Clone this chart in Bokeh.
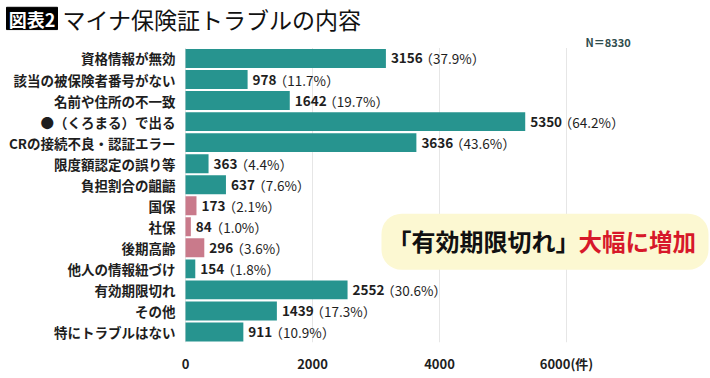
from bokeh.plotting import figure
from bokeh.models import ColumnDataSource, BoxAnnotation, FixedTicker, Range1d, Label
from bokeh.core.properties import value
from bokeh.embed import file_html
from bokeh.resources import INLINE

categories = ["資格情報が無効", "該当の被保険者番号がない", "名前や住所の不一致",
              "●（くろまる）で出る", "CRの接続不良・認証エラー", "限度額認定の誤り等",
              "負担割合の齟齬", "国保", "社保", "後期高齢", "他人の情報紐づけ",
              "有効期限切れ", "その他", "特にトラブルはない"]
counts = [3156, 978, 1642, 5350, 3636, 363, 637, 173, 84, 296, 154, 2552, 1439, 911]
percents = [37.9, 11.7, 19.7, 64.2, 43.6, 4.4, 7.6, 2.1, 1.0, 3.6, 1.8, 30.6, 17.3, 10.9]
pink_categories = ["国保", "社保", "後期高齢"]
x_ticks = [0, 2000, 4000, 6000]
title_tag = "図表2"
title_text = "マイナ保険証トラブルの内容"
n_text = "N＝8330"
note_black = "「有効期限切れ」"
note_red = "大幅に増加"

FONT = "Noto Sans CJK JP"
TEAL = "#27948f"
PINK = "#c97a8b"

n = len(categories)
colors = [PINK if c in pink_categories else TEAL for c in categories]
ypos = [n - 0.5 - i for i in range(n)]
num_txt = [str(v) for v in counts]
pct_txt = ["（%.1f%%）" % p for p in percents]
pct_off = [4 + 7.4 * len(s) for s in num_txt]

src = ColumnDataSource(dict(cat=categories, y=ypos, v=counts, color=colors,
                            num=num_txt, pct=pct_txt, off=pct_off))

# canvas geometry (pixels)
W = 710
PLOT_LEFT = 185          # x of value 0 on the canvas
ROWS_TOP = 49            # top of first row
FRAME_BOTTOM = 353       # bottom of last row
BOTTOM = 22
H = FRAME_BOTTOM + BOTTOM
band = (FRAME_BOTTOM - ROWS_TOP) / n
ppu = 127 / 2000         # pixels per unit on x

def dx(cx):
    return (cx - PLOT_LEFT) / ppu

def dy(cy):
    return (FRAME_BOTTOM - cy) / band

p = figure(width=W, height=H, output_backend="svg", toolbar_location=None,
           x_range=Range1d(dx(0), dx(W)), y_range=Range1d(0, dy(0)),
           min_border_left=0, min_border_right=0, min_border_top=0,
           min_border_bottom=BOTTOM)
p.outline_line_color = None
p.yaxis.visible = False
p.grid.visible = False

# vertical grid lines over the rows only
p.segment(x0=x_ticks, x1=x_ticks, y0=[0] * len(x_ticks), y1=[n] * len(x_ticks),
          line_color="#e6e6e6", line_width=1)

p.hbar(y="y", right="v", left=0, height=0.9, color="color", line_color=None, source=src)

# category labels
p.text(x=0, y="y", text="cat", source=src, x_offset=-10,
       text_font=value(FONT), text_font_style="bold", text_font_size="13.5px",
       text_color="#1e1e1e", text_baseline="middle", text_align="right")

# value labels
p.text(x="v", y="y", text="num", source=src, x_offset=5,
       text_font=value(FONT), text_font_style="bold", text_font_size="13.5px",
       text_color="#1e1e1e", text_baseline="middle", text_align="left")
p.text(x="v", y="y", text="pct", source=src, x_offset="off",
       text_font=value(FONT), text_font_size="13.5px",
       text_color="#1e1e1e", text_baseline="middle", text_align="left")

# x axis
ax = p.xaxis[0]
ax.ticker = FixedTicker(ticks=x_ticks)
ax.major_label_overrides = {6000: "6000(件)"}
ax.axis_line_color = None
ax.major_tick_line_color = None
ax.minor_tick_line_color = None
ax.major_label_text_font = FONT
ax.major_label_text_font_style = "bold"
ax.major_label_text_color = "#1e1e1e"
ax.major_label_text_font_size = "13px"
ax.major_label_standoff = 5

# title
p.quad(left=[dx(6)], right=[dx(57)], top=[dy(7)], bottom=[dy(30)], color="black")
p.text(x=[dx(31.5)], y=[dy(19)], text=[title_tag], text_font=value(FONT),
       text_font_style="bold", text_font_size="18px", text_color="white",
       text_align="center", text_baseline="middle")
p.text(x=[dx(62)], y=[dy(19)], text=[title_text], text_font=value(FONT),
       text_font_size="23px", text_color="#111111", text_align="left",
       text_baseline="middle")
p.text(x=[dx(585)], y=[dy(43)], text=[n_text], text_font=value(FONT),
       text_font_style="bold", text_font_size="11px", text_color="#2f4d4d",
       text_align="left", text_baseline="middle")

# callout
box = BoxAnnotation(left=dx(381), right=dx(708), top=dy(220), bottom=dy(278),
                    fill_color="#fcf8d2", fill_alpha=1, line_color=None,
                    border_radius=20, level="annotation")
p.add_layout(box)
p.add_layout(Label(x=dx(387), y=dy(248), text=note_black, text_font=FONT,
                   text_font_style="bold", text_font_size="24px", text_color="#111111",
                   text_baseline="middle", text_align="left", level="overlay"))
p.add_layout(Label(x=dx(578), y=dy(248), text=note_red, text_font=FONT,
                   text_font_style="bold", text_font_size="23.5px", text_color="#d7182a",
                   text_baseline="middle", text_align="left", level="overlay"))

open("out.html", "w").write(file_html(p, INLINE))
